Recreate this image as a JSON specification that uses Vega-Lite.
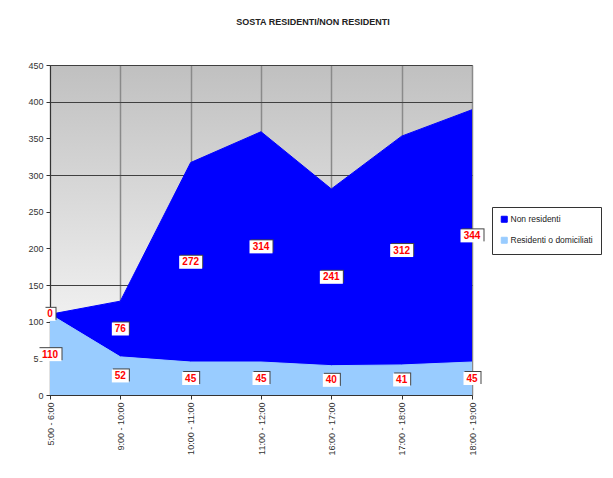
{
  "$schema": "https://vega.github.io/schema/vega-lite/v6.json",
  "width": 422,
  "height": 330,
  "autosize": "none",
  "padding": {"left": 50, "top": 65, "right": 141, "bottom": 83},
  "background": "white",
  "title": {"text": "SOSTA RESIDENTI/NON RESIDENTI", "fontSize": 9, "font": "Liberation Sans", "fontWeight": "bold", "color": "#222222", "dx": 52, "offset": 34, "anchor": "middle"},
  "view": {"fill": {"expr": "{gradient: 'linear', x1: 0, y1: 0, x2: 0, y2: 1, stops: [{offset: 0, color: '#c0c0c0'}, {offset: 1, color: '#ffffff'}]}"}, "stroke": "#808080", "strokeWidth": 1},
  "data": {"values": [
    {"fascia": "5:00 - 6:00", "tipo": "Residenti o domiciliati", "valore": 110},
    {"fascia": "9:00 - 10:00", "tipo": "Residenti o domiciliati", "valore": 52},
    {"fascia": "10:00 - 11:00", "tipo": "Residenti o domiciliati", "valore": 45},
    {"fascia": "11:00 - 12:00", "tipo": "Residenti o domiciliati", "valore": 45},
    {"fascia": "16:00 - 17:00", "tipo": "Residenti o domiciliati", "valore": 40},
    {"fascia": "17:00 - 18:00", "tipo": "Residenti o domiciliati", "valore": 41},
    {"fascia": "18:00 - 19:00", "tipo": "Residenti o domiciliati", "valore": 45},
    {"fascia": "5:00 - 6:00", "tipo": "Non residenti", "valore": 0},
    {"fascia": "9:00 - 10:00", "tipo": "Non residenti", "valore": 76},
    {"fascia": "10:00 - 11:00", "tipo": "Non residenti", "valore": 272},
    {"fascia": "11:00 - 12:00", "tipo": "Non residenti", "valore": 314},
    {"fascia": "16:00 - 17:00", "tipo": "Non residenti", "valore": 241},
    {"fascia": "17:00 - 18:00", "tipo": "Non residenti", "valore": 312},
    {"fascia": "18:00 - 19:00", "tipo": "Non residenti", "valore": 344}
  ]},
  "transform": [
    {"stack": "valore", "groupby": ["fascia"], "as": ["y0", "y1"], "sort": [{"field": "tipo", "order": "descending"}]},
    {"calculate": "(datum.y0 + datum.y1) / 2", "as": "mid"}
  ],
  "encoding": {
    "x": {
      "field": "fascia", "type": "nominal",
      "sort": ["5:00 - 6:00", "9:00 - 10:00", "10:00 - 11:00", "11:00 - 12:00", "16:00 - 17:00", "17:00 - 18:00", "18:00 - 19:00"],
      "scale": {"type": "point", "padding": 0},
      "axis": {"title": null, "labelAngle": -90, "labelAlign": "right", "labelBaseline": "middle", "labelFontSize": 9, "labelFont": "Liberation Sans", "labelColor": "#333333", "labelPadding": 3, "tickSize": 4, "tickColor": "#333333", "domainColor": "#333333", "grid": true, "gridColor": "#8a8a8a", "gridWidth": 1.5, "labelOverlap": false}
    }
  },
  "layer": [
    {
      "mark": {"type": "area", "line": {"color": "#000000", "strokeWidth": 1}, "opacity": 1},
      "encoding": {
        "y": {"field": "y1", "type": "quantitative", "scale": {"domain": [0, 450]},
          "axis": {"title": null, "values": [0, 50, 100, 150, 200, 250, 300, 350, 400, 450], "labelOverlap": false, "labelFontSize": 9, "labelFont": "Liberation Sans", "labelColor": "#333333", "tickSize": 4, "tickColor": "#333333", "domainColor": "#333333", "labelPadding": 3,
            "grid": true, "gridColor": "#404040", "gridWidth": 1,
            "gridOpacity": {"condition": {"test": "datum.value == 150 || datum.value == 300 || datum.value >= 400", "value": 1}, "value": 0}}},
        "y2": {"field": "y0"},
        "color": {"field": "tipo", "type": "nominal",
          "scale": {"domain": ["Non residenti", "Residenti o domiciliati"], "range": ["#0000ff", "#99ccff"]},
          "legend": {"title": null, "orient": "none", "legendX": 442, "legendY": 142, "symbolType": "square", "symbolSize": 36, "symbolStrokeColor": "#000000", "symbolStrokeWidth": 1, "labelFontSize": 8.5, "labelFont": "Liberation Sans", "labelColor": "#222222", "strokeColor": "#333333", "fillColor": "#ffffff", "padding": 8, "rowPadding": 10, "symbolOffset": 0, "labelOffset": 2}}
      }
    },
    {
      "mark": {"type": "rect", "width": {"expr": "5 + 6 * length(toString(datum.valore))"}, "height": 13, "fill": "#444444", "xOffset": 1, "yOffset": -1},
      "encoding": {"y": {"field": "mid", "type": "quantitative",
          "axis": {"title": null, "values": [0, 50, 100, 150, 200, 250, 300, 350, 400, 450], "labelOverlap": false, "labelFontSize": 9, "labelFont": "Liberation Sans", "labelColor": "#333333", "tickSize": 4, "tickColor": "#333333", "domainColor": "#333333", "labelPadding": 3,
            "grid": true, "gridColor": "#404040", "gridWidth": 1,
            "gridOpacity": {"condition": {"test": "datum.value == 150 || datum.value == 300 || datum.value >= 400", "value": 1}, "value": 0}}}}
    },
    {
      "mark": {"type": "rect", "width": {"expr": "5 + 6 * length(toString(datum.valore))"}, "height": 13, "fill": "#ffffff"},
      "encoding": {"y": {"field": "mid", "type": "quantitative",
          "axis": {"title": null, "values": [0, 50, 100, 150, 200, 250, 300, 350, 400, 450], "labelOverlap": false, "labelFontSize": 9, "labelFont": "Liberation Sans", "labelColor": "#333333", "tickSize": 4, "tickColor": "#333333", "domainColor": "#333333", "labelPadding": 3,
            "grid": true, "gridColor": "#404040", "gridWidth": 1,
            "gridOpacity": {"condition": {"test": "datum.value == 150 || datum.value == 300 || datum.value >= 400", "value": 1}, "value": 0}}}}
    },
    {
      "mark": {"type": "text", "color": "#ff0000", "fontWeight": "bold", "fontSize": 10, "font": "Liberation Sans", "baseline": "middle", "align": "center"},
      "encoding": {"y": {"field": "mid", "type": "quantitative",
          "axis": {"title": null, "values": [0, 50, 100, 150, 200, 250, 300, 350, 400, 450], "labelOverlap": false, "labelFontSize": 9, "labelFont": "Liberation Sans", "labelColor": "#333333", "tickSize": 4, "tickColor": "#333333", "domainColor": "#333333", "labelPadding": 3,
            "grid": true, "gridColor": "#404040", "gridWidth": 1,
            "gridOpacity": {"condition": {"test": "datum.value == 150 || datum.value == 300 || datum.value >= 400", "value": 1}, "value": 0}}},
        "text": {"field": "valore", "type": "quantitative"}}
    }
  ]
}
